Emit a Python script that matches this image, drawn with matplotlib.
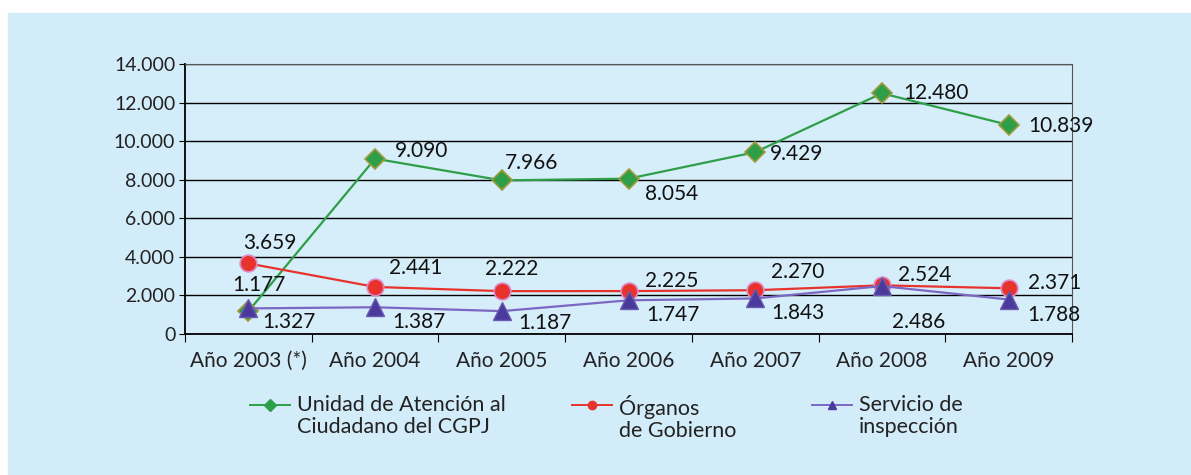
import matplotlib.pyplot as plt
import matplotlib.patches as mpatches
from matplotlib.lines import Line2D
import numpy as np

plt.rcParams['font.family'] = ['Lato', 'DejaVu Sans']

YEARS = ['Año 2003 (*)', 'Año 2004', 'Año 2005', 'Año 2006', 'Año 2007', 'Año 2008', 'Año 2009']
UNIDAD = [1177, 9090, 7966, 8054, 9429, 12480, 10839]
ORGANOS = [3659, 2441, 2222, 2225, 2270, 2524, 2371]
SERVICIO = [1327, 1387, 1187, 1747, 1843, 2486, 1788]
NAMES = ['Unidad de Atención al\nCiudadano del CGPJ', 'Órganos\nde Gobierno', 'Servicio de\ninspección']

# label offsets (left edge, pixels) from the marker
UNIDAD_OFF = [(-16, 26), (20, 8), (3, 17), (16, -15), (15, -2), (21, 0), (20, -1)]
ORGANOS_OFF = [(-5, 20), (14, 19), (-17, 22), (16, 10), (16, 18), (16, 10), (19, 5)]
SERVICIO_OFF = [(14, -14), (17, -15), (16, -12), (18, -15), (16, -15), (10, -36), (19, -15)]

W, H = 1191, 475

GREEN = dict(color='#2e9e48', marker='D', mfc='#2e9e48', mec='#a09a3c')
RED = dict(color='#e8332c', marker='o', mfc='#e8332c', mec='#dd88c8')
PURPLE = dict(color='#7a68c2', marker='^', mfc='#4a3a9c', mec='#6a5ab0')


def fmt(v):
    return f'{v:,}'.replace(',', '.')


fig = plt.figure(figsize=(W / 100, H / 100), dpi=100)
fig.patches.append(mpatches.Rectangle((8 / W, 0), 1, 1 - 13 / H,
                                      transform=fig.transFigure, color='#d3ecf9', zorder=-10))

ax = fig.add_axes([185 / W, 1 - 334 / H, 887 / W, 270 / H])
ax.set_facecolor('#d6eefa')

x = np.arange(len(YEARS))

ax.plot(x, UNIDAD, lw=1.6, ms=10, mew=1.2, zorder=3, **GREEN)
ax.plot(x, ORGANOS, lw=1.6, ms=12, mew=1.2, zorder=4, **RED)
ax.plot(x, SERVICIO, lw=1.6, ms=13, mew=1, zorder=5, **PURPLE)

for series, offs in [(UNIDAD, UNIDAD_OFF), (ORGANOS, ORGANOS_OFF), (SERVICIO, SERVICIO_OFF)]:
    for xi, v, off in zip(x, series, offs):
        ax.annotate(fmt(v), (xi, v), xytext=off, textcoords='offset pixels',
                    ha='left', va='center', fontsize=15, color='#111111', zorder=6)

ax.set_xlim(-0.5, 6.5)
ax.set_ylim(0, 14000)
ax.set_yticks(np.arange(0, 14001, 2000))
ax.set_yticklabels([fmt(v) for v in range(0, 14001, 2000)], fontsize=14, color='#222222')
ax.yaxis.grid(True, color='black', lw=1)
ax.set_axisbelow(True)

ax.set_xticks(np.arange(-0.5, 7, 1))
ax.set_xticklabels([])
ax.set_xticks(x, minor=True)
ax.set_xticklabels(YEARS, minor=True, fontsize=15, color='#222222')
ax.tick_params(axis='x', which='major', length=6, color='black')
ax.tick_params(axis='x', which='minor', length=0, pad=12)
ax.tick_params(axis='y', length=4, pad=3)

for s in ['left', 'bottom']:
    ax.spines[s].set_color('black')
    ax.spines[s].set_linewidth(1.3)
for s in ['top', 'right']:
    ax.spines[s].set_color('#555555')

# legend drawn by hand so the key sits on the first text line
LEG_X = [250, 572, 812]
LEG_Y = 405
for lx, style, name in zip(LEG_X, [GREEN, RED, PURPLE], NAMES):
    fy = 1 - LEG_Y / H
    fig.add_artist(Line2D([lx / W, (lx + 40) / W], [fy, fy], transform=fig.transFigure,
                          color=style['color'], lw=1.4))
    fig.add_artist(Line2D([(lx + 20) / W], [fy], transform=fig.transFigure,
                          marker=style['marker'], ms=6, mfc=style['mfc'], mec=style['mfc'], lw=0))
    fig.text((lx + 47) / W, 1 - (LEG_Y - 10) / H, name, ha='left', va='top',
             fontsize=15.5, color='#222222', linespacing=1.15)

fig.savefig('out.png', dpi=100)
